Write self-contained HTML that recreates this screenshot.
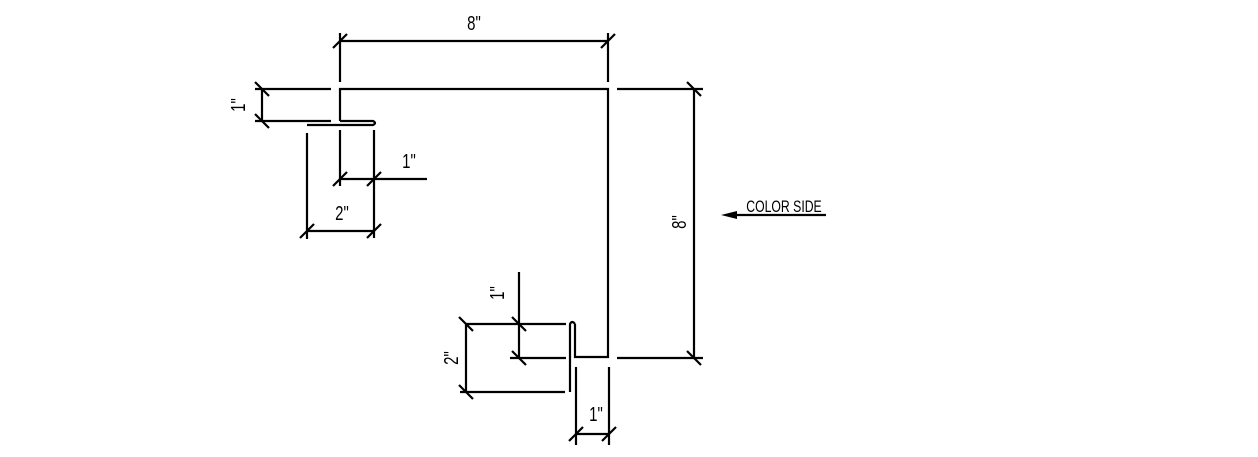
<!DOCTYPE html>
<html><head><meta charset="utf-8"><style>
html,body{margin:0;padding:0;background:#fff;width:1258px;height:457px;overflow:hidden}
text{font-family:"Liberation Sans",sans-serif;fill:#000}
</style></head><body>
<svg width="1258" height="457" viewBox="0 0 1258 457" xmlns="http://www.w3.org/2000/svg">
<g stroke="#000" stroke-width="2.2" fill="none">
<path d="M340,121 V89 H608 V357 H575 V324"/>
<path d="M340,121 H373 Q377,123 373,125 H307"/>
<path d="M575,324 Q572,320 570,324 V392"/>
<line x1="340" y1="33" x2="340" y2="82"/>
<line x1="608" y1="33" x2="608" y2="82"/>
<line x1="340" y1="41" x2="608" y2="41"/>
<line x1="333" y1="48" x2="347" y2="34"/>
<line x1="601" y1="48" x2="615" y2="34"/>
<line x1="255" y1="89" x2="331" y2="89"/>
<line x1="255" y1="121" x2="331" y2="121"/>
<line x1="262" y1="89" x2="262" y2="121"/>
<line x1="255" y1="82" x2="269" y2="96"/>
<line x1="255" y1="114" x2="269" y2="128"/>
<line x1="340" y1="130" x2="340" y2="186"/>
<line x1="374" y1="130" x2="374" y2="238"/>
<line x1="340" y1="179" x2="427" y2="179"/>
<line x1="333" y1="186" x2="347" y2="172"/>
<line x1="367" y1="186" x2="381" y2="172"/>
<line x1="307" y1="133" x2="307" y2="239"/>
<line x1="307" y1="231" x2="374" y2="231"/>
<line x1="300" y1="238" x2="314" y2="224"/>
<line x1="367" y1="238" x2="381" y2="224"/>
<line x1="617" y1="89" x2="703" y2="89"/>
<line x1="617" y1="358" x2="703" y2="358"/>
<line x1="694" y1="89" x2="694" y2="358"/>
<line x1="687" y1="82" x2="701" y2="96"/>
<line x1="687" y1="351" x2="701" y2="365"/>
<line x1="519" y1="272" x2="519" y2="358"/>
<line x1="465" y1="324" x2="566" y2="324"/>
<line x1="510" y1="358" x2="566" y2="358"/>
<line x1="512" y1="317" x2="526" y2="331"/>
<line x1="512" y1="351" x2="526" y2="365"/>
<line x1="466" y1="324" x2="466" y2="392"/>
<line x1="460" y1="392" x2="565" y2="392"/>
<line x1="459" y1="317" x2="473" y2="331"/>
<line x1="459" y1="385" x2="473" y2="399"/>
<line x1="576" y1="367" x2="576" y2="445"/>
<line x1="609" y1="367" x2="609" y2="445"/>
<line x1="576" y1="434" x2="609" y2="434"/>
<line x1="569" y1="441" x2="583" y2="427"/>
<line x1="602" y1="441" x2="616" y2="427"/>
<line x1="730" y1="215" x2="826" y2="215"/>
</g>
<polygon points="721,215 737,211 737,219" fill="#000"/>
<g font-size="20">
<text transform="translate(474,30) scale(0.75,1)" text-anchor="middle">8"</text>
<text transform="translate(409,168) scale(0.75,1)" text-anchor="middle">1"</text>
<text transform="translate(342,220) scale(0.75,1)" text-anchor="middle">2"</text>
<text transform="translate(596,421) scale(0.75,1)" text-anchor="middle">1"</text>
<text transform="translate(245,105) rotate(-90) scale(0.75,1)" text-anchor="middle">1"</text>
<text transform="translate(504,293) rotate(-90) scale(0.75,1)" text-anchor="middle">1"</text>
<text transform="translate(458,358) rotate(-90) scale(0.75,1)" text-anchor="middle">2"</text>
<text transform="translate(686,222) rotate(-90) scale(0.75,1)" text-anchor="middle">8"</text>
<text transform="translate(784,212) scale(0.72,1)" text-anchor="middle" font-size="17">COLOR SIDE</text>
</g>
</svg>
</body></html>
